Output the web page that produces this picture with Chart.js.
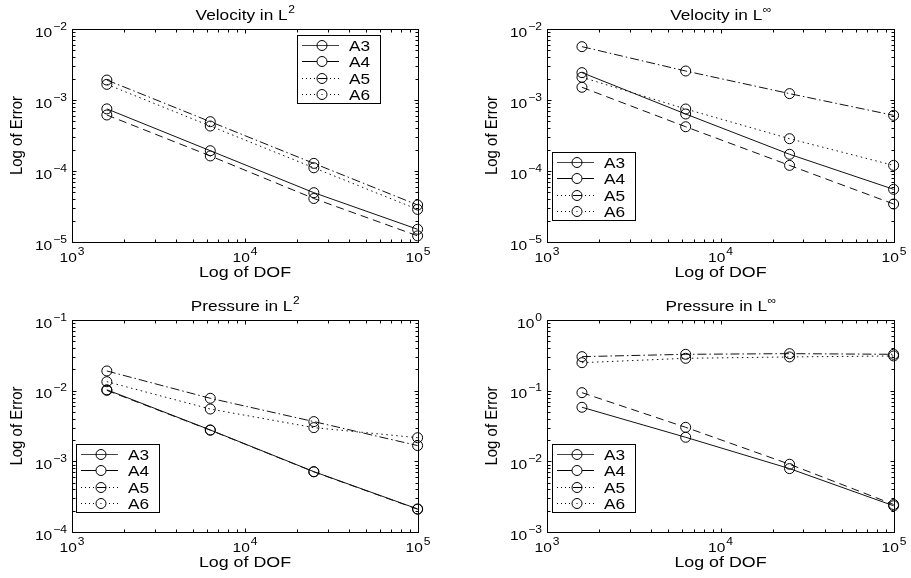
<!DOCTYPE html>
<html>
<head>
<meta charset="utf-8">
<script src="https://cdn.jsdelivr.net/npm/chart.js@4.4.1/dist/chart.umd.min.js"></script>
<style>
  body { margin: 0; background: #fff; width: 911px; height: 578px; position: relative; overflow: hidden; }
  canvas { position: absolute; }
</style>
</head>
<body>
<canvas id="velL2" width="455" height="289" style="left:0;top:0"></canvas>
<canvas id="velLinf" width="456" height="289" style="left:455px;top:0"></canvas>
<canvas id="preL2" width="455" height="289" style="left:0;top:289px"></canvas>
<canvas id="preLinf" width="456" height="289" style="left:455px;top:289px"></canvas>
<script>
// degrees of freedom (x) shared by all four plots
var dof = [1590, 6300, 25000, 99500];
var names = ['A3', 'A4', 'A5', 'A6'];

// Velocity in L2
var velL2_A3 = [7.5e-4, 1.93e-4, 4.95e-5, 1.51e-5];
var velL2_A4 = [6.15e-4, 1.63e-4, 4.1e-5, 1.22e-5];
var velL2_A5 = [1.66e-3, 4.3e-4, 1.11e-4, 2.88e-5];
var velL2_A6 = [1.91e-3, 4.95e-4, 1.28e-4, 3.32e-5];

// Velocity in Linf
var velLi_A3 = [2.43e-3, 6.35e-4, 1.72e-4, 5.52e-5];
var velLi_A4 = [1.51e-3, 4.2e-4, 1.2e-4, 3.43e-5];
var velLi_A5 = [2.09e-3, 7.47e-4, 2.85e-4, 1.2e-4];
var velLi_A6 = [5.64e-3, 2.56e-3, 1.23e-3, 6.08e-4];

// Pressure in L2
var preL2_A3 = [1.03e-2, 2.78e-3, 7.15e-4, 2.12e-4];
var preL2_A4 = [1.01e-2, 2.76e-3, 7.1e-4, 2.1e-4];
var preL2_A5 = [1.34e-2, 5.5e-3, 3.0e-3, 2.16e-3];
var preL2_A6 = [1.9e-2, 7.8e-3, 3.65e-3, 1.67e-3];

// Pressure in Linf
var preLi_A3 = [0.0582, 0.0219, 0.00789, 0.00235];
var preLi_A4 = [0.0937, 0.0303, 0.0091, 0.00245];
var preLi_A5 = [0.249, 0.287, 0.30, 0.31];
var preLi_A6 = [0.303, 0.327, 0.334, 0.327];

var FONT = '"Liberation Sans", Arial, sans-serif';
var SX = 1.15; // the figure text is a bit wider than tall
var dashes = [[], [8, 5], [1.5, 3.5], [9, 3, 1.5, 3]];

function pts(arr) {
  var out = [];
  for (var i = 0; i < arr.length; i++) out.push({ x: dof[i], y: arr[i] });
  return out;
}

function textW(ctx, s, size) {
  ctx.font = size + 'px ' + FONT;
  return ctx.measureText(s).width * SX;
}

// draws left aligned, horizontally stretched text
function putText(ctx, s, x, y, size) {
  ctx.save();
  ctx.font = size + 'px ' + FONT;
  ctx.textAlign = 'left';
  ctx.translate(x, y);
  ctx.scale(SX, 1);
  ctx.fillText(s, 0, 0);
  ctx.restore();
}

function drawPow(ctx, e, x, y, align) {
  // y is baseline of the "10"
  var es = String(e).replace('-', '\u2212');
  var w1 = textW(ctx, '10', 13.5);
  var w2 = textW(ctx, es, 10.5);
  var x0 = align == 'right' ? x - w1 - w2 - 1 : x - (w1 + w2 + 1) / 2;
  ctx.textBaseline = 'alphabetic';
  putText(ctx, '10', x0, y, 13.5);
  putText(ctx, es, x0 + w1 + 1, y - 7, 10.5);
}

var matlabAxes = {
  id: 'matlabAxes',
  afterDraw: function(chart) {
    var o = chart.options.plugins.matlabAxes;
    var ctx = chart.ctx;
    var a = chart.chartArea;
    var xs = chart.scales.x, ys = chart.scales.y;
    var L = Math.round(a.left) + 0.5, R = Math.round(a.right) + 0.5;
    var T = Math.round(a.top) + 0.5, B = Math.round(a.bottom) + 0.5;
    ctx.save();
    ctx.strokeStyle = '#000';
    ctx.fillStyle = '#000';
    ctx.lineWidth = 1;
    ctx.setLineDash([]);
    ctx.strokeRect(L, T, R - L, B - T);

    // ticks on all four sides, pointing in
    ctx.beginPath();
    var d, m, v, p, len;
    for (d = 3; d < 5; d++) {
      for (m = 1; m <= 9; m++) {
        v = m * Math.pow(10, d);
        p = Math.round(xs.getPixelForValue(v)) + 0.5;
        len = m == 1 ? 4 : 3;
        ctx.moveTo(p, B); ctx.lineTo(p, B - len);
        ctx.moveTo(p, T); ctx.lineTo(p, T + len);
      }
    }
    var y0 = Math.round(Math.log10(o.yMin));
    var y1 = Math.round(Math.log10(o.yMax));
    for (d = y0; d < y1; d++) {
      for (m = 1; m <= 9; m++) {
        v = m * Math.pow(10, d);
        p = Math.round(ys.getPixelForValue(v)) + 0.5;
        len = m == 1 ? 4 : 3;
        ctx.moveTo(L, p); ctx.lineTo(L + len, p);
        ctx.moveTo(R, p); ctx.lineTo(R - len, p);
      }
    }
    ctx.stroke();

    // tick labels
    for (d = 3; d <= 5; d++) {
      p = xs.getPixelForValue(Math.pow(10, d));
      drawPow(ctx, d, p, a.bottom + 20, 'center');
    }
    for (d = y0; d <= y1; d++) {
      p = ys.getPixelForValue(Math.pow(10, d));
      drawPow(ctx, d, a.left - 5, p + 7.5, 'right');
    }

    // title with superscript
    var cx = (a.left + a.right) / 2;
    var tw = textW(ctx, o.title, 15);
    var sw = textW(ctx, o.sup, 10.5);
    var tx = cx - (tw + sw) / 2;
    ctx.textBaseline = 'alphabetic';
    putText(ctx, o.title, tx, a.top - 9, 15);
    putText(ctx, o.sup, tx + tw + 0.5, a.top - 16, 10.5);

    // axis labels
    var xw = textW(ctx, 'Log of DOF', 15.5);
    putText(ctx, 'Log of DOF', cx - xw / 2, a.bottom + 35, 15.5);
    ctx.save();
    ctx.font = '15px ' + FONT;
    ctx.translate(a.left - 55, (a.top + a.bottom) / 2);
    ctx.rotate(-Math.PI / 2);
    ctx.scale(1, SX);
    ctx.textAlign = 'center';
    ctx.textBaseline = 'middle';
    ctx.fillText('Log of Error', 0, 0);
    ctx.restore();

    // legend box
    var lx = o.leg[0], ly = o.leg[1];
    ctx.fillStyle = '#fff';
    ctx.fillRect(lx, ly, 83, 68);
    ctx.strokeRect(lx + 0.5, ly + 0.5, 83, 68);
    for (var i = 0; i < names.length; i++) {
      var ry = Math.round(ly + 10 + i * 16.4) + 0.5;
      ctx.strokeStyle = i == 0 ? '#444' : '#000';
      ctx.setLineDash(i < 2 ? [] : [1, 3]);
      ctx.beginPath();
      ctx.moveTo(lx + 5, ry); ctx.lineTo(lx + 42, ry);
      ctx.stroke();
      ctx.setLineDash([]);
      ctx.strokeStyle = '#000';
      ctx.beginPath();
      ctx.arc(lx + 25, ry, 5, 0, Math.PI * 2);
      ctx.fillStyle = '#fff';
      if (i == 1 || i == 3) ctx.fill();
      ctx.stroke();
      if (i == 2) {
        ctx.beginPath();
        ctx.moveTo(lx + 21, ry); ctx.lineTo(lx + 29, ry);
        ctx.stroke();
      }
      if (i == 3) {
        ctx.fillStyle = '#000';
        ctx.fillRect(lx + 24.5, ry - 0.5, 1, 1);
      }
      ctx.fillStyle = '#000';
      ctx.textBaseline = 'middle';
      putText(ctx, names[i], lx + 52, ry + 1, 15);
    }
    ctx.restore();
  }
};

function makePanel(id, title, sup, yMin, yMax, series, leg, pad) {
  var ds = [];
  for (var i = 0; i < series.length; i++) {
    ds.push({
      label: names[i],
      data: pts(series[i]),
      borderColor: '#111',
      borderWidth: 1,
      borderDash: dashes[i],
      pointStyle: 'circle',
      pointRadius: 5,
      pointHoverRadius: 5,
      pointBorderWidth: 1,
      pointBorderColor: '#000',
      pointBackgroundColor: 'rgba(0,0,0,0)',
      fill: false,
      tension: 0,
      clip: false
    });
  }
  new Chart(document.getElementById(id).getContext('2d'), {
    type: 'line',
    data: { datasets: ds },
    options: {
      responsive: false,
      animation: false,
      events: [],
      layout: { padding: pad },
      scales: {
        x: { type: 'logarithmic', min: 1000, max: 100000, display: false },
        y: { type: 'logarithmic', min: yMin, max: yMax, display: false }
      },
      plugins: {
        legend: { display: false },
        tooltip: { enabled: false },
        matlabAxes: { title: title, sup: sup, yMin: yMin, yMax: yMax, leg: leg }
      }
    },
    plugins: [matlabAxes]
  });
}

makePanel('velL2', 'Velocity in L', '2', 1e-5, 1e-2,
  [velL2_A3, velL2_A4, velL2_A5, velL2_A6], [297, 35],
  { left: 72, top: 29, right: 37, bottom: 47 });
makePanel('velLinf', 'Velocity in L', '\u221E', 1e-5, 1e-2,
  [velLi_A3, velLi_A4, velLi_A5, velLi_A6], [97, 152],
  { left: 92, top: 29, right: 17, bottom: 47 });
makePanel('preL2', 'Pressure in L', '2', 1e-4, 1e-1,
  [preL2_A3, preL2_A4, preL2_A5, preL2_A6], [76, 155],
  { left: 72, top: 31, right: 37, bottom: 46 });
makePanel('preLinf', 'Pressure in L', '\u221E', 1e-3, 1,
  [preLi_A3, preLi_A4, preLi_A5, preLi_A6], [97, 155],
  { left: 92, top: 31, right: 17, bottom: 46 });
</script>
</body>
</html>
